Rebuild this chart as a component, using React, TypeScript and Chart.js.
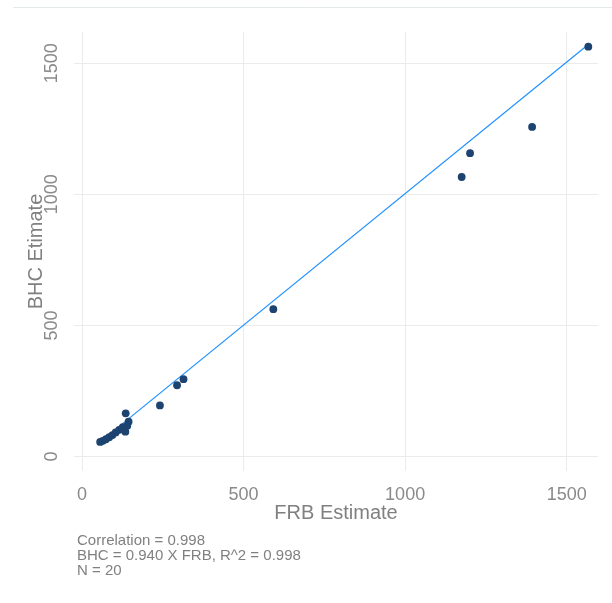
import React, { useEffect, useRef } from "react";
import { Chart, registerables } from "chart.js";

Chart.register(...registerables);

// FRB vs BHC estimates
const frbValues = [1567, 1393, 1201, 1175, 592, 314, 294, 241, 135, 144, 134, 140, 126, 115, 104, 94, 84, 74, 64, 56];
const bhcValues = [1563, 1257, 1157, 1066, 562, 295, 272, 195, 165, 133, 95, 118, 112, 102, 92, 82, 74, 66, 60, 56];

// fitted line end points
const fitX = [56, 1567];
const fitY = [56, 1571];

const xTickValues = [0, 500, 1000, 1500];
const yTickValues = [0, 500, 1000, 1500];

const annotationLines = [
  "Correlation = 0.998",
  "BHC = 0.940 X FRB, R^2 = 0.998",
  "N = 20",
];

const FONT = "'Liberation Sans', Arial, sans-serif";

export default function App() {
  const canvasRef = useRef<HTMLCanvasElement | null>(null);

  useEffect(() => {
    if (!canvasRef.current) return;

    const extraPlugin = {
      id: "extras",
      beforeDraw(chart: any) {
        const ctx = chart.ctx;
        ctx.save();
        ctx.strokeStyle = "#e4eaea";
        ctx.lineWidth = 1;
        ctx.beginPath();
        ctx.moveTo(13, 7.5);
        ctx.lineTo(612, 7.5);
        ctx.stroke();
        ctx.restore();
      },
      afterDraw(chart: any) {
        const ctx = chart.ctx;
        ctx.save();
        ctx.fillStyle = "#808080";
        ctx.font = `15px ${FONT}`;
        ctx.textBaseline = "middle";
        ctx.textAlign = "left";
        annotationLines.forEach((t, i) => {
          ctx.fillText(t, 77, 541 + i * 15);
        });
        ctx.restore();
      },
    };

    const chart = new Chart(canvasRef.current, {
      type: "scatter",
      data: {
        datasets: [
          {
            label: "points",
            data: frbValues.map((x, i) => ({ x, y: bhcValues[i] })),
            backgroundColor: "#1d4370",
            borderColor: "#1d4370",
            pointRadius: 3.9,
            pointBorderWidth: 0,
            showLine: false,
          },
          {
            label: "fit",
            data: fitX.map((x, i) => ({ x, y: fitY[i] })),
            borderColor: "#1e90ff",
            borderWidth: 1.2,
            pointRadius: 0,
            showLine: true,
            fill: false,
          },
        ],
      },
      options: {
        responsive: false,
        animation: false,
        layout: { padding: { top: 32, right: 14, left: 0, bottom: 0 } },
        plugins: {
          legend: { display: false },
          tooltip: { enabled: false },
        },
        scales: {
          x: {
            type: "linear",
            min: -25,
            max: 1597,
            afterFit(scale: any) {
              scale.height = 132;
            },
            afterBuildTicks(scale: any) {
              scale.ticks = xTickValues.map((v) => ({ value: v }));
            },
            grid: { color: "#ebebeb", lineWidth: 1, drawTicks: false },
            border: { display: false },
            ticks: {
              padding: 13,
              color: "#8a8a8a",
              font: { family: FONT, size: 18 },
              maxRotation: 0,
              minRotation: 0,
              callback: (v: any) => String(v),
            },
            title: {
              display: true,
              text: "FRB Estimate",
              color: "#808080",
              font: { family: FONT, size: 20 },
              padding: { top: 0, bottom: 78 },
            },
          },
          y: {
            type: "linear",
            min: -55,
            max: 1619,
            afterFit(scale: any) {
              scale.width = 74;
            },
            afterBuildTicks(scale: any) {
              scale.ticks = yTickValues.map((v) => ({ value: v }));
            },
            grid: { color: "#ebebeb", lineWidth: 1, drawTicks: false },
            border: { display: false },
            ticks: {
              padding: 2,
              color: "#8a8a8a",
              font: { family: FONT, size: 18 },
              minRotation: 90,
              maxRotation: 90,
              crossAlign: "center",
              callback: (v: any) => String(v),
            },
            title: {
              display: true,
              text: "BHC Etimate",
              color: "#808080",
              font: { family: FONT, size: 20 },
              padding: { top: 24, bottom: 0 },
            },
          },
        },
      },
      plugins: [extraPlugin],
    } as any);

    return () => chart.destroy();
  }, []);

  return (
    <div style={{ position: "absolute", left: 0, top: 0, width: 612, height: 603 }}>
      <canvas ref={canvasRef} width={612} height={603} style={{ width: 612, height: 603 }} />
    </div>
  );
}
